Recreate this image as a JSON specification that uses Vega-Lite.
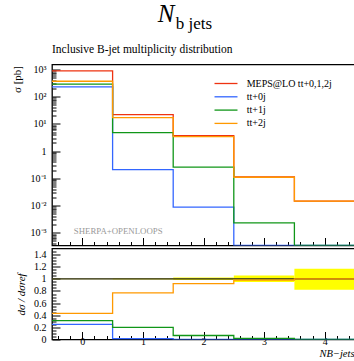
{
  "$schema": "https://vega.github.io/schema/vega-lite/v6.json",
  "padding": {"left": 10, "top": 1.5, "right": 0, "bottom": 0},
  "background": "white",
  "title": {"text": "N", "subtitle": "b jets", "font": "Liberation Serif", "fontStyle": "italic", "fontSize": 25, "fontWeight": "normal",
            "subtitleFont": "Liberation Serif", "subtitleFontSize": 17, "subtitleFontStyle": "normal", "subtitleColor": "black", "subtitlePadding": -11,
            "anchor": "start", "frame": "bounds", "dx": 165, "offset": 10.5, "color": "black",
            "encoding": {"dx": {"value": 147}}},
  "config": {
    "font": "Liberation Serif",
    "view": {"stroke": "black", "strokeWidth": 1.3},
    "axis": {"domain": false, "grid": false, "tickColor": "black", "tickWidth": 1, "labelColor": "black", "titleColor": "black", "labelFont": "Liberation Serif", "titleFont": "Liberation Serif", "labelFontSize": 10, "titleFontSize": 11, "titleFontWeight": "normal"},
    "title": {"fontWeight": "normal", "color": "black"}
  },
  "datasets": {
    "main": [
      {"s": "MEPS@LO tt+0,1,2j", "x": -0.5, "v": 890},
      {"s": "MEPS@LO tt+0,1,2j", "x": 0.5, "v": 22},
      {"s": "MEPS@LO tt+0,1,2j", "x": 1.5, "v": 3.7},
      {"s": "MEPS@LO tt+0,1,2j", "x": 2.5, "v": 0.112},
      {"s": "MEPS@LO tt+0,1,2j", "x": 3.5, "v": 0.0145},
      {"s": "MEPS@LO tt+0,1,2j", "x": 4.5, "v": 0.0145},
      {"s": "tt+0j", "x": -0.5, "v": 230},
      {"s": "tt+0j", "x": 0.5, "v": 0.21},
      {"s": "tt+0j", "x": 1.5, "v": 0.0087},
      {"s": "tt+0j", "x": 2.5, "v": 0},
      {"s": "tt+0j", "x": 3.5, "v": 0},
      {"s": "tt+0j", "x": 4.5, "v": 0},
      {"s": "tt+1j", "x": -0.5, "v": 290},
      {"s": "tt+1j", "x": 0.5, "v": 4.8},
      {"s": "tt+1j", "x": 1.5, "v": 0.26},
      {"s": "tt+1j", "x": 2.5, "v": 0.0023},
      {"s": "tt+1j", "x": 3.5, "v": 0},
      {"s": "tt+1j", "x": 4.5, "v": 0},
      {"s": "tt+2j", "x": -0.5, "v": 370},
      {"s": "tt+2j", "x": 0.5, "v": 17},
      {"s": "tt+2j", "x": 1.5, "v": 3.4},
      {"s": "tt+2j", "x": 2.5, "v": 0.11},
      {"s": "tt+2j", "x": 3.5, "v": 0.0145},
      {"s": "tt+2j", "x": 4.5, "v": 0.0145}
    ],
    "ratio": [
      {"s": "MEPS@LO tt+0,1,2j", "x": -0.5, "r": 1},
      {"s": "MEPS@LO tt+0,1,2j", "x": 0.5, "r": 1},
      {"s": "MEPS@LO tt+0,1,2j", "x": 1.5, "r": 1},
      {"s": "MEPS@LO tt+0,1,2j", "x": 2.5, "r": 1},
      {"s": "MEPS@LO tt+0,1,2j", "x": 3.5, "r": 1},
      {"s": "MEPS@LO tt+0,1,2j", "x": 4.5, "r": 1},
      {"s": "tt+0j", "x": -0.5, "r": 0.25},
      {"s": "tt+0j", "x": 0.5, "r": 0.012},
      {"s": "tt+0j", "x": 1.5, "r": 0.003},
      {"s": "tt+0j", "x": 2.5, "r": 0},
      {"s": "tt+0j", "x": 3.5, "r": 0},
      {"s": "tt+0j", "x": 4.5, "r": 0},
      {"s": "tt+1j", "x": -0.5, "r": 0.31},
      {"s": "tt+1j", "x": 0.5, "r": 0.2},
      {"s": "tt+1j", "x": 1.5, "r": 0.066},
      {"s": "tt+1j", "x": 2.5, "r": 0.02},
      {"s": "tt+1j", "x": 3.5, "r": 0},
      {"s": "tt+1j", "x": 4.5, "r": 0},
      {"s": "tt+2j", "x": -0.5, "r": 0.43},
      {"s": "tt+2j", "x": 0.5, "r": 0.77},
      {"s": "tt+2j", "x": 1.5, "r": 0.92},
      {"s": "tt+2j", "x": 2.5, "r": 0.98},
      {"s": "tt+2j", "x": 3.5, "r": 1.0},
      {"s": "tt+2j", "x": 4.5, "r": 1.0}
    ],
    "band": [
      {"x": -0.5, "x2": 0.5, "lo": 0.995, "hi": 1.005},
      {"x": 0.5, "x2": 1.5, "lo": 0.99, "hi": 1.01},
      {"x": 1.5, "x2": 2.5, "lo": 0.98, "hi": 1.02},
      {"x": 2.5, "x2": 3.5, "lo": 0.946, "hi": 1.056},
      {"x": 3.5, "x2": 4.5, "lo": 0.82, "hi": 1.166}
    ]
  },
  "spacing": 0,
  "resolve": {"scale": {"color": "independent"}},
  "vconcat": [
    {
      "width": 303,
      "height": 181,
      "title": {"text": "Inclusive B-jet multiplicity distribution", "anchor": "start", "frame": "group", "fontSize": 11.5, "font": "Liberation Serif", "fontWeight": "normal", "baseline": "alphabetic", "offset": 0.5, "color": "black"},
      "resolve": {"axis": {"x": "independent", "y": "independent"}},
      "layer": [
        {
          "data": {"name": "main"},
          "mark": {"type": "line", "interpolate": "step-after", "strokeWidth": 1.3, "clip": true, "invalid": "show"},
          "encoding": {
            "x": {"field": "x", "type": "quantitative", "scale": {"domain": [-0.5, 4.5], "nice": false, "zero": false},
                  "axis": {"orient": "bottom", "values": [0, 1, 2, 3, 4], "labels": false, "tickSize": -8, "title": null}},
            "y": {"field": "v", "type": "quantitative", "scale": {"type": "log", "domain": [0.000341, 1528], "nice": false, "clamp": true},
                  "axis": {"orient": "left", "values": [0.001, 0.01, 0.1, 1, 10, 100, 1000], "tickSize": -8, "labelPadding": 14,
                           "labelExpr": "datum.value >= 999 ? '10³' : datum.value >= 99 ? '10²' : datum.value >= 9 ? '10¹' : datum.value >= 0.9 ? '1' : datum.value >= 0.09 ? '10⁻¹' : datum.value >= 0.009 ? '10⁻²' : '10⁻³'",
                           "title": "σ [pb]", "titleAngle": -90, "titleAlign": "right", "titleBaseline": "middle", "titleX": -34.6, "titleY": 1}},
            "color": {"field": "s", "type": "nominal",
                      "scale": {"domain": ["MEPS@LO tt+0,1,2j", "tt+0j", "tt+1j", "tt+2j"], "range": ["#EE3311", "#3366FF", "#109618", "#FF9900"]},
                      "legend": {"orient": "none", "legendX": 169, "legendY": 14, "title": null, "symbolType": "M-4,0H4", "symbolSize": 33, "symbolStrokeWidth": 1.3, "labelFontSize": 10, "labelFont": "Liberation Serif", "labelOffset": 15.7, "rowPadding": 3.3, "padding": 0, "labelColor": "black"}}
          }
        },
        {
          "data": {"values": [{"label": "SHERPA+OPENLOOPS"}]},
          "mark": {"type": "text", "align": "left", "baseline": "middle", "fontSize": 8.8, "color": "#999999", "font": "Liberation Serif"},
          "encoding": {
            "text": {"field": "label"},
            "x": {"datum": -0.14, "type": "quantitative",
                  "axis": {"orient": "bottom", "values": [-0.4, -0.2, 0.2, 0.4, 0.6, 0.8, 1.2, 1.4, 1.6, 1.8, 2.2, 2.4, 2.6, 2.8, 3.2, 3.4, 3.6, 3.8, 4.2, 4.4], "labels": false, "tickSize": -4, "title": null}},
            "y": {"datum": 0.00118, "type": "quantitative",
                  "axis": {"orient": "left", "labels": false, "tickSize": -4, "title": null,
                           "values": [0.0004, 0.0005, 0.0006, 0.0007, 0.0008, 0.0009, 0.002, 0.003, 0.004, 0.005, 0.006, 0.007, 0.008, 0.009, 0.02, 0.03, 0.04, 0.05, 0.06, 0.07, 0.08, 0.09, 0.2, 0.3, 0.4, 0.5, 0.6, 0.7, 0.8, 0.9, 2, 3, 4, 5, 6, 7, 8, 9, 20, 30, 40, 50, 60, 70, 80, 90, 200, 300, 400, 500, 600, 700, 800, 900]}}
          }
        }
      ]
    },
    {
      "width": 303,
      "height": 91,
      "resolve": {"axis": {"x": "independent", "y": "independent"}},
      "layer": [
        {
          "data": {"name": "band"},
          "mark": {"type": "rect", "color": "#FFFF00", "opacity": 1},
          "encoding": {
            "x": {"field": "x", "type": "quantitative", "scale": {"domain": [-0.5, 4.5], "nice": false, "zero": false}, "axis": null},
            "x2": {"field": "x2"},
            "y": {"field": "lo", "type": "quantitative", "scale": {"domain": [0, 1.5], "nice": false, "zero": false}, "axis": null},
            "y2": {"field": "hi"}
          }
        },
        {
          "data": {"name": "ratio"},
          "mark": {"type": "line", "interpolate": "step-after", "strokeWidth": 1.3, "clip": true},
          "encoding": {
            "x": {"field": "x", "type": "quantitative",
                  "axis": {"orient": "bottom", "values": [0, 1, 2, 3, 4], "tickSize": -8, "labelPadding": 5, "format": "d",
                           "title": "NB−jets", "titleFontSize": 10.5, "titleFontStyle": "italic", "titleAnchor": "end", "titleAlign": "right", "titleBaseline": "alphabetic", "titleX": 302, "titleY": 17}},
            "y": {"field": "r", "type": "quantitative",
                  "axis": {"orient": "left", "values": [0, 0.2, 0.4, 0.6, 0.8, 1, 1.2, 1.4], "tickSize": -8, "labelPadding": 14, "format": "~g",
                           "title": "dσ / dσref", "titleFontStyle": "italic", "titleAngle": -90, "titleAlign": "center", "titleBaseline": "middle", "titleX": -31, "titleY": 45.5}},
            "color": {"field": "s", "type": "nominal",
                      "scale": {"domain": ["MEPS@LO tt+0,1,2j", "tt+0j", "tt+1j", "tt+2j"], "range": ["#222222", "#3366FF", "#109618", "#FF9900"]},
                      "legend": null}
          }
        },
        {
          "data": {"values": [{"label": ""}]},
          "mark": {"type": "text"},
          "encoding": {
            "text": {"field": "label"},
            "x": {"datum": 0, "type": "quantitative",
                  "axis": {"orient": "bottom", "values": [-0.4, -0.2, 0.2, 0.4, 0.6, 0.8, 1.2, 1.4, 1.6, 1.8, 2.2, 2.4, 2.6, 2.8, 3.2, 3.4, 3.6, 3.8, 4.2, 4.4], "labels": false, "tickSize": -4, "title": null}},
            "y": {"datum": 1, "type": "quantitative",
                  "axis": {"orient": "left", "labels": false, "tickSize": -4, "title": null,
                           "values": [0.05, 0.1, 0.15, 0.25, 0.3, 0.35, 0.45, 0.5, 0.55, 0.65, 0.7, 0.75, 0.85, 0.9, 0.95, 1.05, 1.1, 1.15, 1.25, 1.3, 1.35, 1.45]}}
          }
        }
      ]
    }
  ]
}
